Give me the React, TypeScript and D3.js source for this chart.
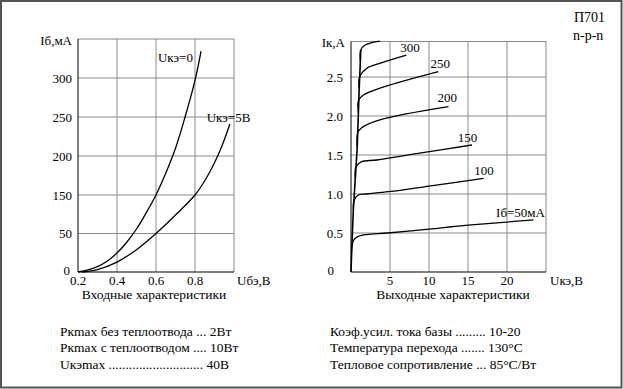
import React from "react";
import * as d3 from "d3";

// ── Input characteristics (Uбэ, В → Iб, мА as labelled) ──
const inUkeZero: [number, number][] = [
  [0.2, 0], [0.251, 2.6], [0.3, 7], [0.349, 14], [0.4, 24.7], [0.451, 39],
  [0.5, 61.7], [0.549, 103], [0.6, 150], [0.646, 175.6], [0.7, 210],
  [0.749, 250], [0.8, 297], [0.831, 334.6],
];
const inUkeFive: [number, number][] = [
  [0.221, 0], [0.3, 3.2], [0.4, 12.9], [0.5, 29], [0.6, 50], [0.7, 98],
  [0.8, 150], [0.851, 168.6], [0.897, 189.7], [0.938, 212.8], [0.979, 241],
];
const inXTicks = [0.2, 0.4, 0.6, 0.8];
const inXGrid = [0.2, 0.4, 0.6, 0.8, 1.0];
// tick labels as printed on the original (note the irregular "150")
const inYTicks = [0, 50, 150, 200, 250, 300];
const inYGrid = [0, 50, 150, 200, 250, 300, 350];

// ── Output characteristics (Uкэ, В → Iк, А) ──
const outEnvelope: [number, number][] = [
  [0, 0], [0.1, 0.3], [0.3, 0.8], [0.55, 1.2], [0.8, 1.6], [0.95, 2.05],
  [1.05, 2.35], [1.2, 2.7], [1.25, 2.846],
];
const outIb50: [number, number][] = [
  [0.05, 0.25], [0.3, 0.4], [0.8, 0.45], [2, 0.48], [4.7, 0.5], [10, 0.55], [15, 0.6], [23.4, 0.667],
];
const outIb100: [number, number][] = [
  [0.3, 0.8], [0.4, 0.92], [0.94, 0.987], [2, 1.0], [4.8, 1.03], [10, 1.1], [17, 1.2],
];
const outIb150: [number, number][] = [
  [0.55, 1.2], [0.64, 1.35], [1.37, 1.414], [3.3, 1.436], [9, 1.526], [15.5, 1.628],
];
const outIb200: [number, number][] = [
  [0.8, 1.6], [0.85, 1.78], [1.37, 1.85], [3.7, 1.95], [12.5, 2.12],
];
const outIb250: [number, number][] = [
  [0.95, 2.05], [0.96, 2.2], [1.6, 2.27], [4.1, 2.37], [11.2, 2.57],
];
const outIb300: [number, number][] = [
  [1.05, 2.35], [1.1, 2.5], [2.0, 2.61], [3.7, 2.675], [7.1, 2.78],
];
const outIbTop: [number, number][] = [
  [1.2, 2.7], [1.25, 2.846], [1.8, 2.91], [2.65, 2.94], [3.7, 2.96],
];
const outXTicks = [5, 10, 15, 20];
const outXGrid = [0, 5, 10, 15, 20, 25];
const outYTicks = [0, 0.5, 1.0, 1.5, 2.0, 2.5];

// curve labels: [text, x, y] in data units (text start, baseline)
const inLabels: [string, number, number][] = [
  ["Uкэ=0", 0.61, 320],
  ["Uкэ=5В", 0.86, 244],
];
const outLabels: [string, number, number][] = [
  ["300", 6.3, 2.82],
  ["250", 10.2, 2.62],
  ["200", 11.1, 2.18],
  ["150", 13.7, 1.67],
  ["100", 15.8, 1.25],
  ["Iб=50мА", 18.6, 0.7],
];

const specsLeft = [
  "Pкmax без теплоотвода ... 2Вт",
  "Pкmax с теплоотводом .... 10Вт",
  "Uкэmax ............................ 40В",
];
const specsRight = [
  "Коэф.усил. тока базы ......... 10-20",
  "Температура перехода ....... 130°C",
  "Тепловое сопротивление ... 85°C/Вт",
];

const W = 623;
const H = 389;
const FONT = "Liberation Serif, DejaVu Serif, serif";
const GRID = "#8a8a8a";

export default function App() {
  // left panel — piecewise y so the printed labels sit on their gridlines
  const xIn = d3.scaleLinear().domain([0.2, 1.0]).range([78, 234]);
  const yIn = d3
    .scaleLinear()
    .domain([0, 50, 150, 200, 250, 300, 350])
    .range([272, 233.5, 195, 156, 117, 78, 39]);

  // right panel
  const xOut = d3.scaleLinear().domain([0, 25]).range([351, 546]);
  const yOut = d3.scaleLinear().domain([0, 0.5]).range([272, 233]);
  const outTop = 41.5;

  const lineIn = d3
    .line<[number, number]>()
    .x((d) => xIn(d[0]))
    .y((d) => yIn(d[1]))
    .curve(d3.curveCatmullRom.alpha(0.5));
  const lineOut = d3
    .line<[number, number]>()
    .x((d) => xOut(d[0]))
    .y((d) => yOut(d[1]))
    .curve(d3.curveCatmullRom.alpha(0.5));
  const lineEnv = d3
    .line<[number, number]>()
    .x((d) => xOut(d[0]))
    .y((d) => yOut(d[1]));

  const outCurves = [outIb50, outIb100, outIb150, outIb200, outIb250, outIb300, outIbTop];

  return (
    <div style={{ position: "fixed", left: 0, top: 0 }}>
      <svg width={W} height={H} style={{ display: "block" }}>
        <g fontFamily={FONT} fill="#000">
          <rect x={0} y={0} width={W} height={H} fill="#fff" />
          <rect x={1} y={1} width={W - 2.5} height={H - 2.5} fill="none" stroke="#555" strokeWidth={2} />

          {/* title */}
          <text x={574} y={22} fontSize={14}>П701</text>
          <text x={573} y={39.5} fontSize={14}>n-p-n</text>

          {/* ── Input characteristics ── */}
          {inXGrid.slice(1).map((v) => (
            <line key={"ix" + v} x1={xIn(v)} x2={xIn(v)} y1={yIn(350)} y2={yIn(0)} stroke={GRID} />
          ))}
          {inYGrid.slice(1).map((v) => (
            <line key={"iy" + v} x1={xIn(0.2)} x2={xIn(1.0)} y1={yIn(v)} y2={yIn(v)} stroke={GRID} />
          ))}
          <line x1={xIn(0.2)} x2={xIn(0.2)} y1={yIn(350)} y2={yIn(0)} stroke="#000" />
          <line x1={xIn(0.2)} x2={xIn(1.0)} y1={yIn(0)} y2={yIn(0)} stroke="#000" />

          <path d={lineIn(inUkeZero) ?? ""} fill="none" stroke="#000" strokeWidth={1.3} />
          <path d={lineIn(inUkeFive) ?? ""} fill="none" stroke="#000" strokeWidth={1.3} />

          {inYTicks.map((v) => (
            <text key={"iyt" + v} x={v === 0 ? 70 : 72} y={yIn(v) + (v === 0 ? 2.5 : 4.5)} fontSize={13} textAnchor="end">
              {v}
            </text>
          ))}
          {inXTicks.map((v) => (
            <text key={"ixt" + v} x={xIn(v)} y={285} fontSize={13} textAnchor="middle">
              {v.toFixed(1)}
            </text>
          ))}
          <text x={72} y={44.5} fontSize={13} textAnchor="end">Iб,мА</text>
          <text x={237} y={285} fontSize={13}>Uбэ,В</text>
          {inLabels.map(([t, x, y]) => (
            <text key={t} x={xIn(x)} y={yIn(y)} fontSize={13}>{t}</text>
          ))}
          <text x={154} y={299} fontSize={13.5} textAnchor="middle">Входные характеристики</text>

          {/* ── Output characteristics ── */}
          {outXGrid.slice(1).map((v) => (
            <line key={"ox" + v} x1={xOut(v)} x2={xOut(v)} y1={outTop} y2={yOut(0)} stroke={GRID} />
          ))}
          {outYTicks.slice(1).map((v) => (
            <line key={"oy" + v} x1={xOut(0)} x2={xOut(25)} y1={yOut(v)} y2={yOut(v)} stroke={GRID} />
          ))}
          <line x1={xOut(0)} x2={xOut(25)} y1={outTop} y2={outTop} stroke={GRID} />
          <line x1={xOut(0)} x2={xOut(0)} y1={outTop} y2={yOut(0)} stroke="#000" />
          <line x1={xOut(0)} x2={xOut(25)} y1={yOut(0)} y2={yOut(0)} stroke="#000" />

          <path d={lineEnv(outEnvelope) ?? ""} fill="none" stroke="#000" strokeWidth={1.6} />
          {outCurves.map((c, i) => (
            <path key={"c" + i} d={lineOut(c) ?? ""} fill="none" stroke="#000" strokeWidth={1.3} />
          ))}

          {outYTicks.map((v) => (
            <text key={"oyt" + v} x={v === 0 ? 334 : 343} y={yOut(v) + (v === 0 ? 2.5 : 4.5)} fontSize={13} textAnchor="end">
              {v === 0 ? "0" : v.toFixed(1)}
            </text>
          ))}
          {outXTicks.map((v) => (
            <text key={"oxt" + v} x={xOut(v)} y={285} fontSize={13} textAnchor="middle">{v}</text>
          ))}
          <text x={345} y={46.5} fontSize={13} textAnchor="end">Iк,А</text>
          <text x={550} y={285} fontSize={13}>Uкэ,В</text>
          {outLabels.map(([t, x, y]) => (
            <text key={t} x={xOut(x)} y={yOut(y)} fontSize={13}>{t}</text>
          ))}
          <text x={453} y={299} fontSize={13.5} textAnchor="middle">Выходные характеристики</text>

          {/* ── specs ── */}
          {specsLeft.map((s, i) => (
            <text key={s} x={60} y={336} fontSize={13.5} dy={i * 16.3}>{s}</text>
          ))}
          {specsRight.map((s, i) => (
            <text key={s} x={330} y={336} fontSize={13.5} dy={i * 16.3}>{s}</text>
          ))}
        </g>
      </svg>
    </div>
  );
}
